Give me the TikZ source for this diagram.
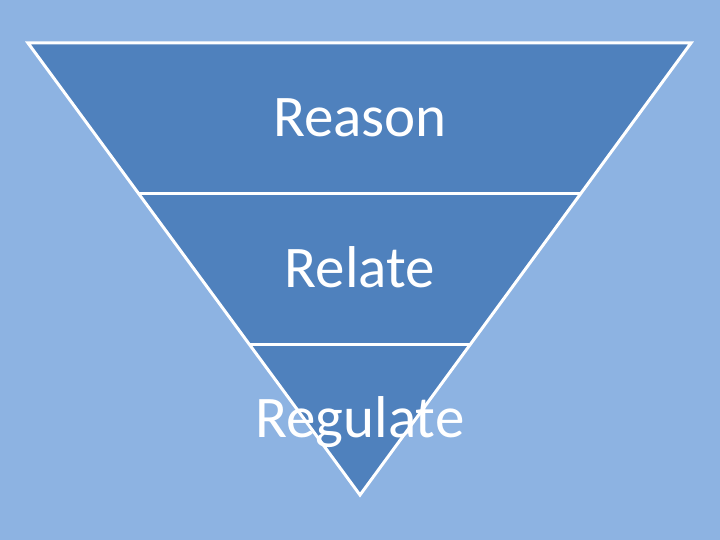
\documentclass[tikz,border=0pt]{standalone}
\usepackage{fontspec}
\setmainfont{Carlito}
\usepackage{xcolor}
\usetikzlibrary{calc}
\definecolor{slidebg}{HTML}{8DB3E2}
\definecolor{funnelblue}{HTML}{4F81BD}
\tikzset{
  level label/.style={anchor=base,text=white,font=\fontsize{59}{64}\selectfont,inner sep=0pt},
  edge line/.style={white,line width=3pt,line join=miter}
}

\begin{document}
\begin{tikzpicture}[x=1pt,y=1pt]
    % --- background ---
    \fill[slidebg] (0,0) rectangle (720,540);
    \useasboundingbox (0,0) rectangle (720,540);
    % --- funnel corners ---
    \coordinate (tl) at (28,497);
    \coordinate (tr) at (691,497);
    \coordinate (apex) at (360,45);
    \coordinate (l1) at ($(tl)!0.332!(apex)$);
    \coordinate (r1) at ($(tr)!0.332!(apex)$);
    \coordinate (l2) at ($(tl)!0.668!(apex)$);
    \coordinate (r2) at ($(tr)!0.668!(apex)$);
    \fill[funnelblue] (tl) -- (tr) -- (apex) -- cycle;
    \draw[edge line] (tl) -- (tr) -- (apex) -- cycle;
    \draw[edge line] (l1) -- (r1);
    \draw[edge line] (l2) -- (r2);
    % --- levels ---
    \node[level label] (reason) at (360,403) {Reason};
    \node[level label] (relate) at (360,252) {Relate};
    \node[level label] (regulate) at (360,102) {Regulate};
  \end{tikzpicture}
\end{document}
